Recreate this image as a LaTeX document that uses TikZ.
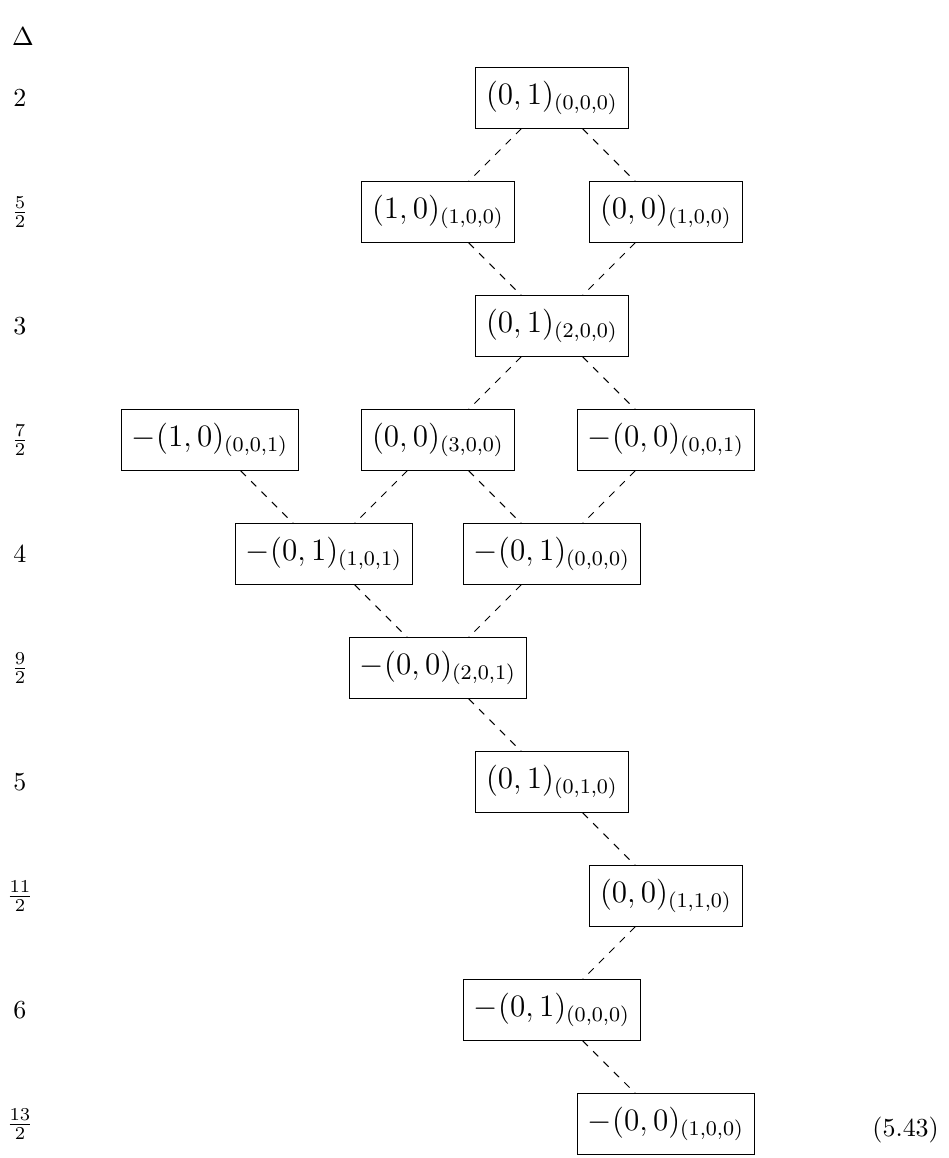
\documentclass[tikz,border=0pt]{standalone}
\usepackage{amsmath,amssymb}
\usepackage{tikz}
\usetikzlibrary{positioning,calc}

\begin{document}
\begin{tikzpicture}[x=1.635cm, y=1.635cm, every node/.style={scale=1.06},
    cell/.style={draw, inner xsep=4pt, inner ysep=5.2pt, font=\large},
    link/.style={dashed}]
            \useasboundingbox (-1.842,0.860) rectangle (6.474,-9.298);

            % Dimensions on the left
            \node (delta) at (-1.64,0.535) {$\Delta$};
            \foreach \lab [count=\i from 0] in {2,\frac{5}{2},3,\frac{7}{2},4,\frac{9}{2},5,\frac{11}{2},6,\frac{13}{2}}
                \node (lab\i) at (-1.667,-\i) {$\lab$};

            % Top part
            \node[cell] (r0c3) at (3,0) {$(0,1)_{(0,0,0)}$};
            \node[cell] (r1c2) at (2,-1) {$(1,0)_{(1,0,0)}$};
            \node[cell] (r1c4) at (4,-1) {$(0,0)_{(1,0,0)}$};
            \node[cell] (r2c3) at (3,-2) {$(0,1)_{(2,0,0)}$};

            % Middle part
            \node[cell] (r3c0) at (0,-3) {$-(1,0)_{(0,0,1)}$};
            \node[cell] (r3c2) at (2,-3) {$(0,0)_{(3,0,0)}$};
            \node[cell] (r3c4) at (4,-3) {$-(0,0)_{(0,0,1)}$};
            \node[cell] (r4c1) at (1,-4) {$-(0,1)_{(1,0,1)}$};
            \node[cell] (r4c3) at (3,-4) {$-(0,1)_{(0,0,0)}$};
            \node[cell] (r5c2) at (2,-5) {$-(0,0)_{(2,0,1)}$};

            % Bottom part
            \node[cell] (r6c3) at (3,-6) {$(0,1)_{(0,1,0)}$};
            \node[cell] (r7c4) at (4,-7) {$(0,0)_{(1,1,0)}$};
            \node[cell] (r8c3) at (3,-8) {$-(0,1)_{(0,0,0)}$};
            \node[cell] (r9c4) at (4,-9) {$-(0,0)_{(1,0,0)}$};

            % Links
            \foreach \a/\b in {r0c3/r1c2, r0c3/r1c4, r1c2/r2c3, r1c4/r2c3,
                               r2c3/r3c2, r2c3/r3c4, r3c0/r4c1, r3c2/r4c1,
                               r3c2/r4c3, r3c4/r4c3, r4c1/r5c2, r4c3/r5c2,
                               r5c2/r6c3, r6c3/r7c4, r7c4/r8c3, r8c3/r9c4}
                \draw[link] (\a) -- (\b);

            % Equation number
            \node[anchor=east] (eqno) at (6.474,-9.05) {(5.43)};
        \end{tikzpicture}
\end{document}
